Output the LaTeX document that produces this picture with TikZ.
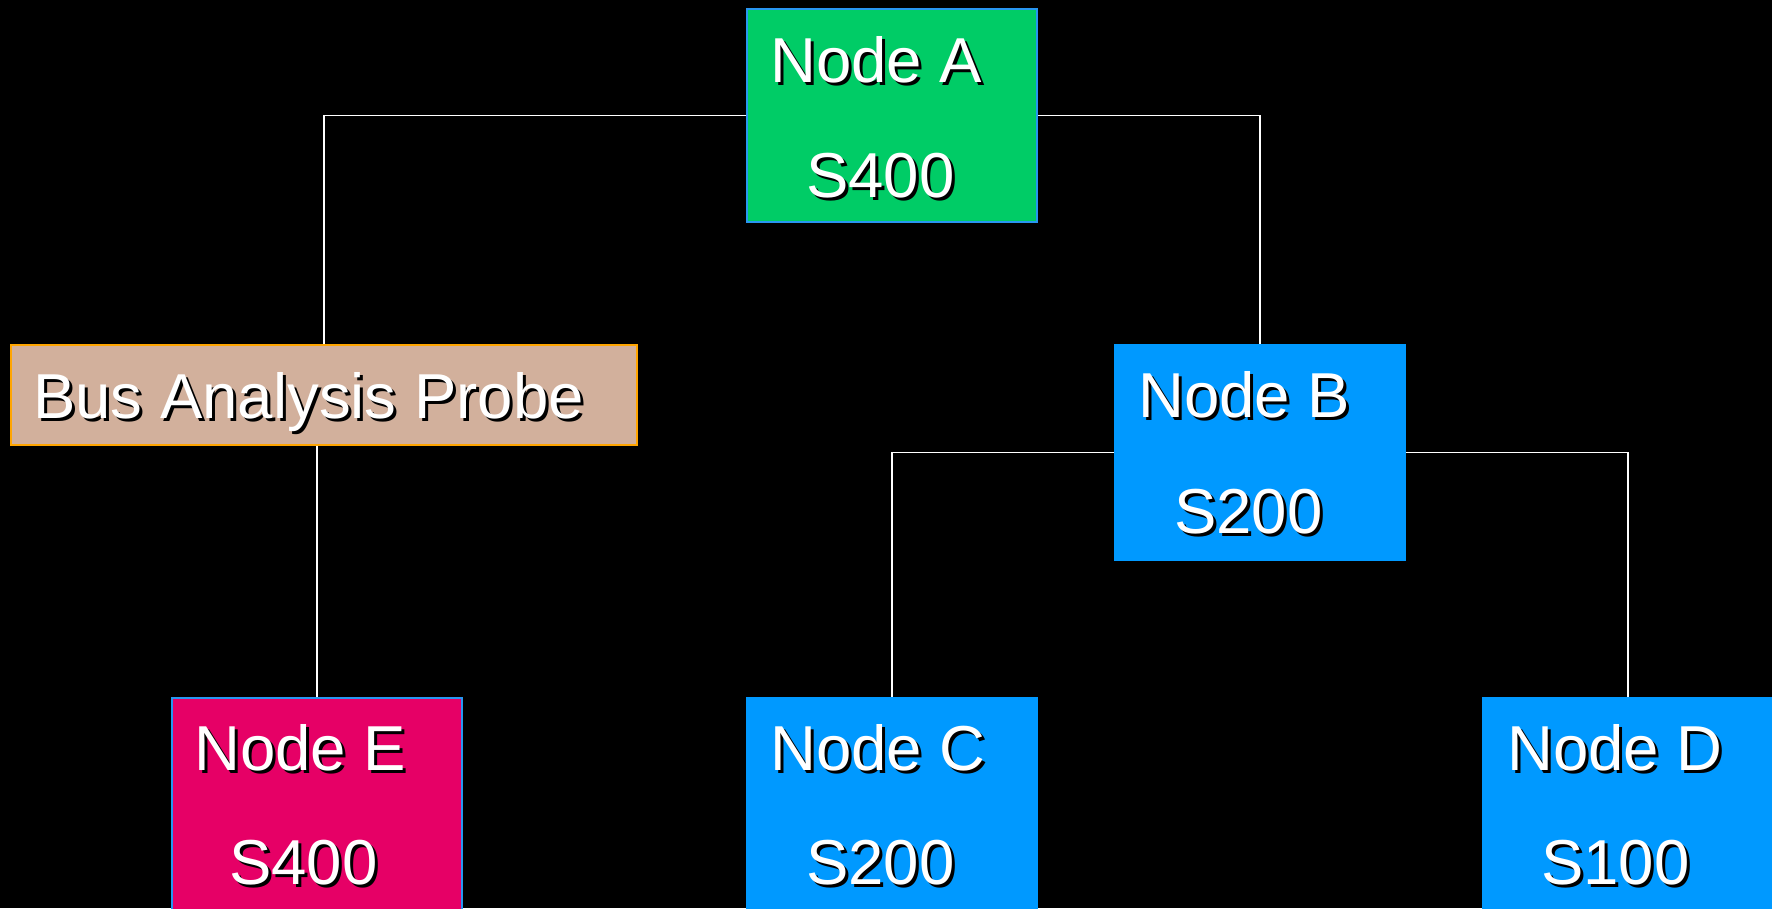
\documentclass[tikz,border=0pt]{standalone}
\usepackage{fontspec}
\setmainfont{Liberation Sans}
\definecolor{boxgreen}{RGB}{0,204,102}
\definecolor{boxblue}{RGB}{0,153,255}
\definecolor{edgeblue}{RGB}{40,150,240}
\definecolor{boxpink}{RGB}{230,0,102}
\definecolor{boxtan}{RGB}{210,176,156}
\definecolor{edgeorange}{RGB}{255,165,0}
\tikzset{
  box/.style={rectangle, anchor=north west, inner sep=0pt, line width=2pt},
  link/.style={draw=white, line width=1.6pt},
  txt/.style={anchor=base west, inner sep=0pt, text=white,
    font=\fontsize{63.5}{76}\selectfont},
  txtshadow/.style={txt, text=black}
}
% white label with a small black drop shadow
\newcommand{\shadowlabel}[3]{%
  \node[txtshadow] (#1s) at ([shift={(3,3)}]#2) {#3};
  \node[txt] (#1) at (#2) {#3};
}
\begin{document}
\begin{tikzpicture}[x=1pt,y=-1pt]
  \fill[black] (0,0) rectangle (1772,908);
  \useasboundingbox (0,0) rectangle (1772,908);
  \clip (0,0) rectangle (1772,908);

  % boxes
  \node[box, fill=boxgreen, draw=edgeblue, minimum width=290pt, minimum height=213pt] (A) at (746,8) {};
  \node[box, fill=boxtan, draw=edgeorange, minimum width=626pt, minimum height=100pt] (P) at (10,344) {};
  \node[box, fill=boxblue, draw=boxblue, minimum width=290pt, minimum height=215pt] (B) at (1114,344) {};
  \node[box, fill=boxpink, draw=edgeblue, minimum width=290pt, minimum height=220pt] (E) at (171,697) {};
  \node[box, fill=boxblue, draw=boxblue, minimum width=290pt, minimum height=220pt] (C) at (746,697) {};
  \node[box, fill=boxblue, draw=boxblue, minimum width=290pt, minimum height=220pt] (D) at (1482,697) {};

  % connectors
  \draw[link] (A.west) -| (P.north);
  \draw[link] (A.east) -| (B.north);
  \draw[link] (E.north) -- (E.north |- P.south);
  \draw[link] (B.west) -| (C.north);
  \draw[link] (B.east) -| (D.north);

  % labels
  \shadowlabel{a1}{770,82}{Node A}
  \shadowlabel{a2}{806,197}{S400}
  \shadowlabel{p1}{33,418}{Bus Analysis Probe}
  \shadowlabel{b1}{1138,417}{Node B}
  \shadowlabel{b2}{1174,533}{S200}
  \shadowlabel{e1}{194,770}{Node E}
  \shadowlabel{e2}{229,884}{S400}
  \shadowlabel{c1}{770,770}{Node C}
  \shadowlabel{c2}{806,884}{S200}
  \shadowlabel{d1}{1507,770}{Node D}
  \shadowlabel{d2}{1541,884}{S100}
\end{tikzpicture}
\end{document}
